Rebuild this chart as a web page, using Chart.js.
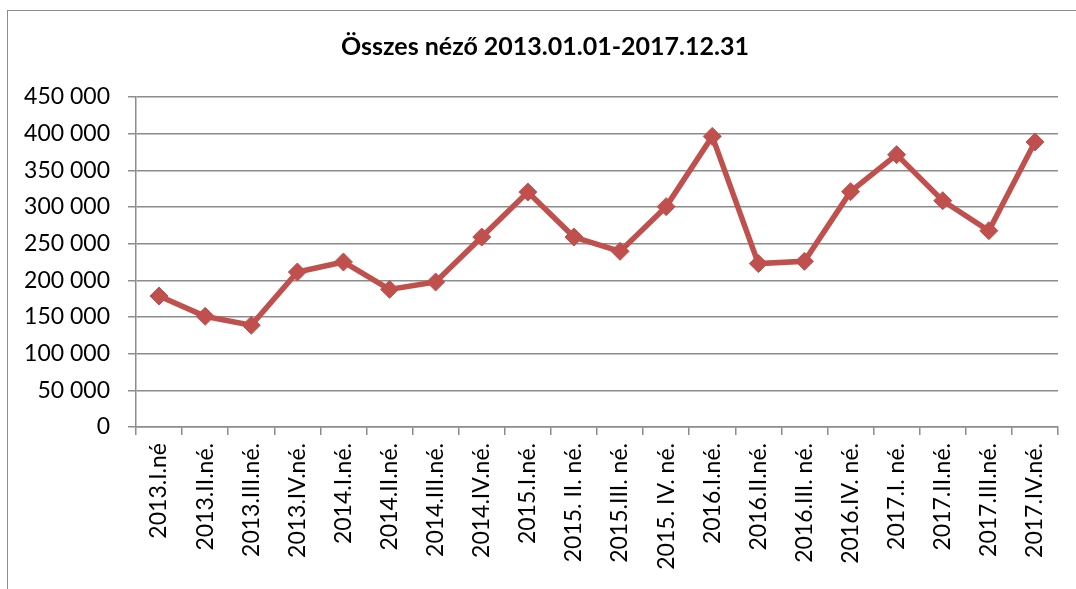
<!DOCTYPE html>
<html>
<head>
<meta charset="utf-8">
<script src="https://cdn.jsdelivr.net/npm/chart.js@4"></script>
<style>
    html, body { margin: 0; padding: 0; background: #fff; overflow: hidden; }
    .frame {
        position: absolute; left: 7px; top: 10px;
        width: 1200px; height: 700px;
        border-left: 1.5px solid #8c8c8c; border-top: 1.5px solid #8c8c8c;
    }
    .chart-box { position: absolute; left: 7px; top: 10px; width: 1076px; height: 590px; }
</style>
</head>
<body>
<div class="frame"></div>
<div class="chart-box"><canvas id="viewersChart"></canvas></div>
<script>
// --- Data ---
const quarters = [
    '2013.I.né', '2013.II.né.', '2013.III.né.', '2013.IV.né.',
    '2014.I.né.', '2014.II.né.', '2014.III.né.', '2014.IV.né.',
    '2015.I.né.', '2015. II. né.', '2015.III. né.', '2015. IV. né.',
    '2016.I.né.', '2016.II.né.', '2016.III. né.', '2016.IV. né.',
    '2017.I. né.', '2017.II.né.', '2017.III.né.', '2017.IV.né.'
];
const viewers = [
    178600, 150900, 138700, 211300,
    225000, 187700, 197700, 259000,
    320400, 259000, 239500, 300500,
    396300, 222800, 225900, 320900,
    371400, 308600, 267700, 388700
];
const yTicks = [0, 50000, 100000, 150000, 200000, 250000, 300000, 350000, 400000, 450000];

const lineRed = '#C0504D';
const gridGrey = '#8c8c8c';
const fontFamily = 'Lato, "Noto Sans", sans-serif';

function spaced(v) {
    return String(v).replace(/\B(?=(\d{3})+(?!\d))/g, ' ');
}

// --- Chart ---
const ctx = document.getElementById('viewersChart').getContext('2d');
new Chart(ctx, {
    type: 'line',
    data: {
        labels: quarters,
        datasets: [{
            label: 'Összes néző',
            data: viewers,
            borderColor: lineRed,
            backgroundColor: lineRed,
            borderWidth: 5.5,
            tension: 0,
            pointStyle: 'rectRot',
            pointRadius: 9,
            pointBorderWidth: 1,
            pointBackgroundColor: lineRed,
            pointBorderColor: lineRed
        }]
    },
    options: {
        responsive: true,
        maintainAspectRatio: false,
        animation: false,
        layout: { padding: 0 },
        plugins: {
            legend: { display: false },
            tooltip: { enabled: false },
            title: {
                display: true,
                text: 'Összes néző 2013.01.01-2017.12.31',
                color: '#000',
                font: { family: fontFamily, size: 25, weight: 'bold', lineHeight: 1.2 },
                padding: { top: 22, bottom: 35 }
            }
        },
        scales: {
            x: {
                offset: true,
                grid: {
                    offset: true,
                    drawOnChartArea: false,
                    drawTicks: true,
                    tickLength: 8,
                    color: gridGrey,
                    lineWidth: 1.5
                },
                border: { display: true, color: gridGrey, width: 1.5 },
                ticks: {
                    autoSkip: false,
                    minRotation: 90,
                    maxRotation: 90,
                    padding: 8,
                    color: '#000',
                    font: { family: fontFamily, size: 23 }
                },
                afterFit: s => { s.height = 173; }
            },
            y: {
                min: 0,
                max: 450000,
                afterBuildTicks: s => { s.ticks = yTicks.map(v => ({ value: v })); },
                grid: {
                    color: gridGrey,
                    lineWidth: 1.5,
                    drawTicks: true,
                    tickLength: 8
                },
                border: { display: true, color: gridGrey, width: 1.5 },
                ticks: {
                    padding: 18,
                    color: '#000',
                    font: { family: fontFamily, size: 23 },
                    callback: v => spaced(v)
                },
                afterFit: s => { s.width = 129; }
            },
            // empty right-hand spacer so the title stays centred on the whole frame
            spacer: {
                position: 'right',
                display: true,
                grid: { display: false },
                border: { display: false },
                ticks: { display: false },
                afterFit: s => { s.width = 25; }
            }
        }
    }
});
</script>
</body>
</html>
